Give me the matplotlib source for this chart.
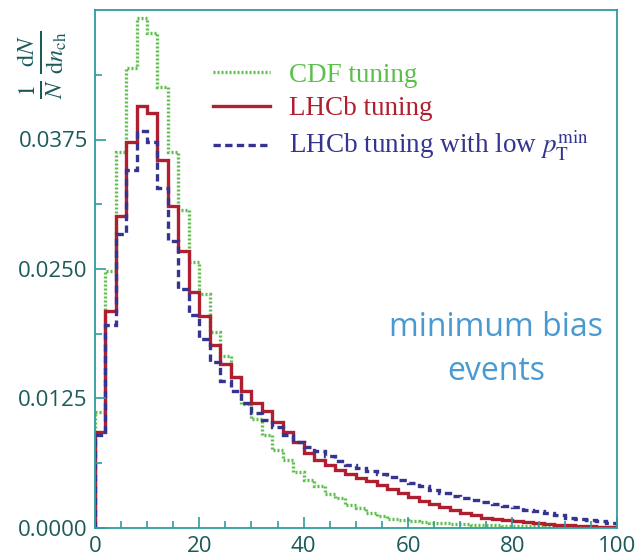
import numpy as np
import matplotlib
matplotlib.use("Agg")
import matplotlib.pyplot as plt

plt.rcParams['mathtext.fontset'] = 'stix'

# bin edges of the multiplicity histogram (2 units per bin)
bin_edges = np.arange(0, 102, 2)

# CDF tuning (green dotted)
cdf_tuning = [
    0.0112, 0.0248, 0.0363, 0.0444, 0.0492, 0.0478, 0.0426, 0.0363, 0.0307, 0.0257,
    0.0226, 0.0189, 0.0166, 0.0146, 0.0120, 0.0105, 0.0090, 0.0075, 0.0066, 0.0054,
    0.0046, 0.0040, 0.0033, 0.0029, 0.0022, 0.0019, 0.0014, 0.0011, 0.0009, 0.0008,
    0.0007, 0.0006, 0.0005, 0.0005, 0.0004, 0.0004, 0.0003, 0.0003, 0.0003, 0.0002,
    0.0002, 0.0002, 0.0002, 0.0001, 0.0001, 0.0001, 0.0001, 0.0001, 0.0001, 0.0001,
]

# LHCb tuning (red solid)
lhcb_tuning = [
    0.0093, 0.0209, 0.0301, 0.0373, 0.0407, 0.0401, 0.0355, 0.0311, 0.0267, 0.0228,
    0.0205, 0.0177, 0.0158, 0.0146, 0.0132, 0.0121, 0.0113, 0.0102, 0.0093, 0.0083,
    0.0072, 0.0066, 0.0061, 0.0056, 0.0052, 0.0048, 0.0045, 0.0041, 0.0038, 0.0034,
    0.0030, 0.0026, 0.0023, 0.0020, 0.0017, 0.0014, 0.0012, 0.0010, 0.0009, 0.0008,
    0.0007, 0.0006, 0.0005, 0.0004, 0.0003, 0.0003, 0.0002, 0.0002, 0.0001, 0.0001,
]

# LHCb tuning with low pT min (blue dashed)
lhcb_low_ptmin = [
    0.0090, 0.0196, 0.0284, 0.0346, 0.0383, 0.0373, 0.0328, 0.0277, 0.0231, 0.0206,
    0.0182, 0.0160, 0.0142, 0.0132, 0.0121, 0.0111, 0.0104, 0.0097, 0.0090, 0.0083,
    0.0078, 0.0074, 0.0069, 0.0065, 0.0061, 0.0058, 0.0055, 0.0052, 0.0049, 0.0046,
    0.0043, 0.0040, 0.0037, 0.0034, 0.0031, 0.0029, 0.0027, 0.0025, 0.0023, 0.0021,
    0.0020, 0.0017, 0.0016, 0.0014, 0.0012, 0.0010, 0.0009, 0.0008, 0.0007, 0.0005,
]

labels = ['CDF tuning', 'LHCb tuning', r'LHCb tuning with low $p_{\rm T}^{\rm min}$']
colors = ['#5cbf4a', '#b01f30', '#35358f']

axis_color = '#2f9c9c'
label_color = '#1b5a5a'

fig = plt.figure(figsize=(6.36, 5.58), dpi=100)
ax = fig.add_axes([0.149, 0.054, 0.821, 0.928])

ax.stairs(cdf_tuning, bin_edges, baseline=0, color=colors[0], lw=2.4,
          linestyle=(0, (0.6, 0.6)), label=labels[0])
ax.stairs(lhcb_tuning, bin_edges, baseline=0, color=colors[1], lw=2.4,
          linestyle='-', label=labels[1])
ax.stairs(lhcb_low_ptmin, bin_edges, baseline=0, color=colors[2], lw=2.4,
          linestyle=(0, (2.2, 1.3)), label=labels[2])

ax.set_xlim(0, 100)
ax.set_ylim(0, 0.05)

ax.set_xticks([0, 20, 40, 60, 80, 100])
ax.set_xticks(np.arange(0, 101, 5), minor=True)
ax.set_yticks([0, 0.0125, 0.025, 0.0375])
ax.set_yticks(np.arange(0, 0.05, 0.00625), minor=True)
ax.set_yticklabels(['0.0000', '0.0125', '0.0250', '0.0375'])

ax.tick_params(which='both', direction='in', color=axis_color, labelcolor=label_color,
               labelsize=16, top=False, right=False, width=1.2)
ax.tick_params(which='major', length=8)
ax.tick_params(which='minor', length=5)
ax.tick_params(axis='x', which='major', pad=6)
ax.tick_params(axis='y', which='major', pad=5)
for lab in ax.get_xticklabels() + ax.get_yticklabels():
    lab.set_family('Open Sans')
for sp in ax.spines.values():
    sp.set_color(axis_color)
    sp.set_linewidth(1.3)

leg = ax.legend(loc='upper left', bbox_to_anchor=(0.18, 0.945), frameon=False,
                handlelength=2.1, handletextpad=0.7, labelspacing=0.3,
                prop={'family': 'Liberation Serif', 'size': 19.5}, labelcolor='linecolor')

ax.text(0.768, 0.344, 'minimum bias\nevents', transform=ax.transAxes, ha='center',
        va='center', fontsize=23, color='#4a9ad2', family='Open Sans', linespacing=1.45)

fig.text(0.066, 0.884, r'$\frac{1}{N}\,\frac{\mathrm{d}N}{\mathrm{d}n_{\mathrm{ch}}}$',
         rotation=90, ha='center', va='center', fontsize=25, color='#1b5a5a')

fig.savefig('out.png', dpi=100)
